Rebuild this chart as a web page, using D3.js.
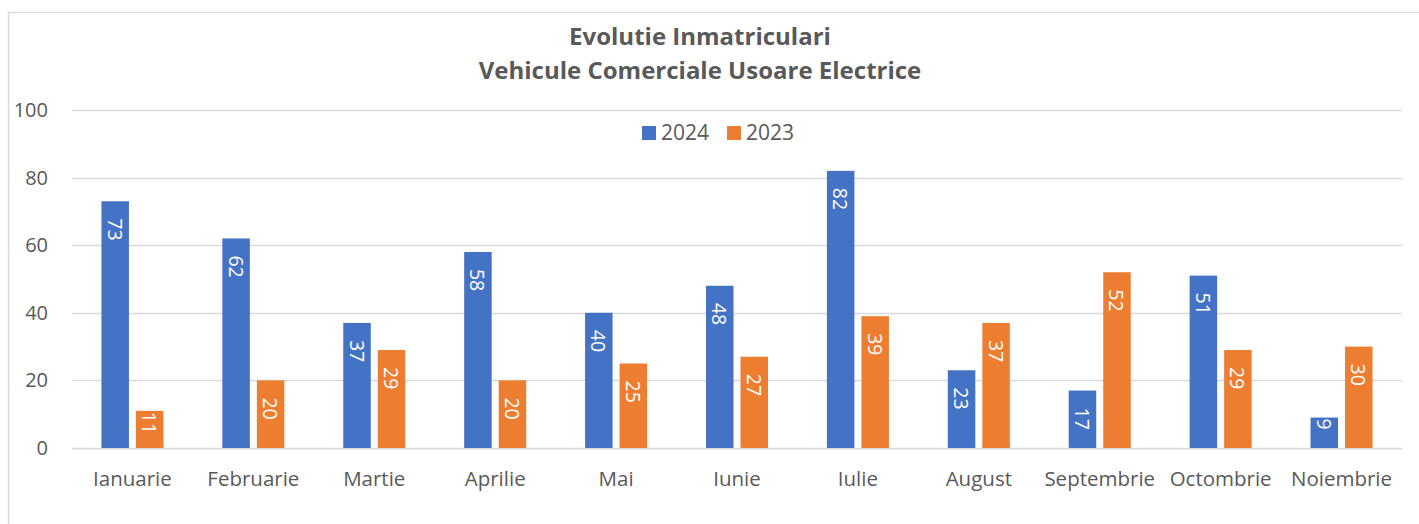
<!DOCTYPE html>
<html><head><meta charset="utf-8">
<script src="https://cdn.jsdelivr.net/npm/d3@7/dist/d3.min.js"></script>
<style>body{margin:0;background:#fff;} svg{display:block;font-family:"Open Sans",sans-serif;}</style>
</head><body>
<svg id="c" width="1419" height="524"></svg>
<script>
const categories = ["Ianuarie","Februarie","Martie","Aprilie","Mai","Iunie","Iulie","August","Septembrie","Octombrie","Noiembrie"];
const seriesNames = ["2024","2023"];
const values2024 = [73,62,37,58,40,48,82,23,17,51,9];
const values2023 = [11,20,29,20,25,27,39,37,52,29,30];
const yTicks = [0,20,40,60,80,100];
const colors = {"2024":"#4472C4","2023":"#ED7D31"};

const svg = d3.select("#c");
const W=1419,H=524;
const L=72,R=1402,T=110,B=448;
svg.append("rect").attr("x",8.5).attr("y",12.5).attr("width",W+10).attr("height",H+10)
  .attr("fill","#fff").attr("stroke","#D9D9D9").attr("stroke-width",1.5);

const x0 = d3.scaleBand().domain(categories).range([L,R]).padding(0);
const x1 = d3.scaleBand().domain(seriesNames).range([0,x0.bandwidth()]).paddingInner(0.203).paddingOuter(0.853);
const y = d3.scaleLinear().domain([0,100]).range([B,T]);

const grid = svg.append("g");
yTicks.forEach(t=>{
  grid.append("line").attr("x1",L).attr("x2",R).attr("y1",Math.round(y(t))+0.5).attr("y2",Math.round(y(t))+0.5)
    .attr("stroke","#D9D9D9").attr("stroke-width",t===0?1.6:1.3);
  grid.append("text").attr("x",48).attr("y",y(t)+7).attr("text-anchor","end")
    .attr("font-size",20).attr("fill","#595959").text(t);
});

const data = categories.map((c,i)=>({c, v:{"2024":values2024[i],"2023":values2023[i]}}));
const g = svg.append("g");
data.forEach(d=>{
  seriesNames.forEach(s=>{
    const v=d.v[s];
    const bx = x0(d.c)+x1(s);
    const bh = y(0)-y(v);
    g.append("rect").attr("x",bx).attr("y",y(v)).attr("width",x1.bandwidth()).attr("height",bh).attr("fill",colors[s]);
    const cx = bx + x1.bandwidth()/2;
    const off = bh > 50 ? 17 : 1;
    g.append("text").attr("transform",`translate(${cx},${y(v)+off}) rotate(90)`)
      .attr("text-anchor","start").attr("dominant-baseline","central")
      .attr("font-size",19.5).attr("fill","#fff").text(v);
  });
  svg.append("text").attr("x",x0(d.c)+x0.bandwidth()/2).attr("y",486).attr("text-anchor","middle")
    .attr("font-size",20.5).attr("fill","#595959").text(d.c);
});

svg.append("text").attr("x",700).attr("y",44.5).attr("text-anchor","middle").attr("font-size",24).attr("font-weight","bold").attr("fill","#595959").text("Evolutie Inmatriculari");
svg.append("text").attr("x",700).attr("y",78.5).attr("text-anchor","middle").attr("font-size",24).attr("font-weight","bold").attr("fill","#595959").text("Vehicule Comerciale Usoare Electrice");

const leg = svg.append("g");
const legX=[642,727];
seriesNames.forEach((s,i)=>{
  leg.append("rect").attr("x",legX[i]).attr("y",126).attr("width",14).attr("height",14).attr("fill",colors[s]);
  leg.append("text").attr("x",legX[i]+19).attr("y",140).attr("font-size",21).attr("fill","#595959").text(s);
});
</script>
</body></html>
